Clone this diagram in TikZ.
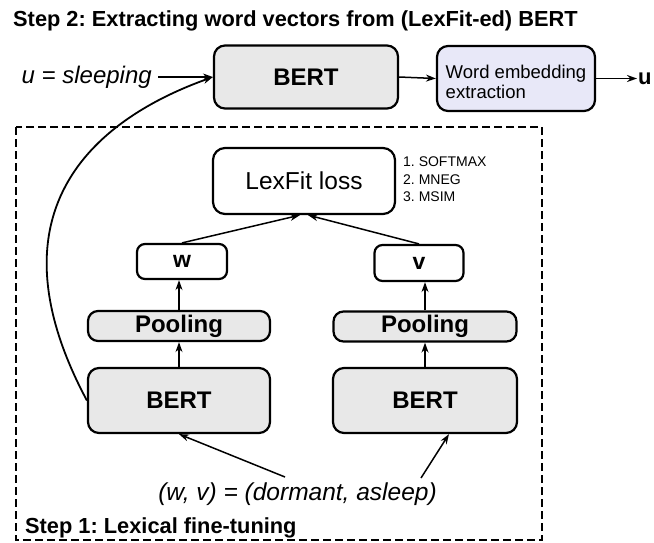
\documentclass[tikz,border=0pt]{standalone}
\usepackage{fontspec}
\setmainfont{Liberation Sans}
\usetikzlibrary{arrows.meta,calc}
\definecolor{bertgray}{RGB}{232,232,232}
\definecolor{lavbox}{RGB}{232,232,248}
\newcommand{\myfs}[2]{\fontsize{#1}{#2}\selectfont}
\frenchspacing
\begin{document}
\begin{tikzpicture}[x=1pt,y=-1pt,
  box/.style={draw, line width=2.2pt, rounded corners=11pt, fill=bertgray, inner sep=0pt},
  smallbox/.style={draw, line width=2.2pt, rounded corners=8pt, fill=white, inner sep=0pt},
  arr/.style={line width=1.5pt, -{Stealth[open, length=10pt, width=7pt]}},
  curvearr/.style={line width=1.8pt, -{Stealth[open, length=10pt, width=7pt]}},
  dashedbox/.style={draw, line width=2.6pt, dash pattern=on 8pt off 4pt},
  lbl/.style={inner sep=0pt}]
\useasboundingbox (0,0) rectangle (654,542);

% title
\node[lbl, anchor=base west, font=\myfs{21.8}{24}\bfseries] (title) at (13,26) {Step 2: Extracting word vectors from (LexFit-ed) BERT};

% step 2 row
\node[box, minimum width=184pt, minimum height=63pt, font=\myfs{24}{28}\bfseries] (topbert) at (306,77) {BERT};
\node[box, fill=lavbox, minimum width=158pt, minimum height=65pt] (wee) at (516,78.5) {};
\node[lbl, align=left, font=\myfs{18.5}{20}] (weetext) at ([yshift=-3pt]wee.center) {Word embedding\\extraction};
\node[lbl, anchor=east, font=\myfs{24}{28}\itshape] (usleep) at (152,77) {u = sleeping};
\node[lbl, anchor=west, inner sep=1pt, font=\myfs{22}{26}\bfseries] (uout) at (637,78.5) {u};

\draw[arr] ([xshift=6pt]usleep.east) -- (topbert.west);
\draw[arr] (topbert.east) -- (wee.west);
\draw[arr] (wee.east) -- (uout.west);

% step 1 frame
\draw[dashedbox] (16,127) rectangle (542,540);
\node[lbl, anchor=base west, font=\myfs{21.8}{24}\bfseries] (step1) at (25,533) {Step 1: Lexical fine-tuning};

% loss
\node[smallbox, rounded corners=12pt, minimum width=182pt, minimum height=66pt, font=\myfs{24.5}{28}] (loss) at (304,181) {LexFit loss};
\node[lbl, anchor=north west, align=left, font=\myfs{14}{17.5}] (losslist) at (403,157) {1. SOFTMAX\\2. MNEG\\3. MSIM};

% w, v
\node[smallbox, minimum width=90pt, minimum height=35pt, font=\myfs{23}{26}\bfseries] (w) at (182,261.5) {w};
\node[smallbox, minimum width=89pt, minimum height=36pt, font=\myfs{23}{26}\bfseries] (v) at (419,263) {v};

% pooling
\node[box, rounded corners=10pt, minimum width=182pt, minimum height=30pt, font=\myfs{24}{28}\bfseries] (poolL) at (179,326) {Pooling};
\node[box, rounded corners=10pt, minimum width=183pt, minimum height=30pt, font=\myfs{24}{28}\bfseries] (poolR) at (425,326.5) {Pooling};

% bert bottom
\node[box, minimum width=182pt, minimum height=65pt, font=\myfs{24}{28}\bfseries] (bertL) at (179,400.5) {BERT};
\node[box, minimum width=184pt, minimum height=65pt, font=\myfs{24}{28}\bfseries] (bertR) at (425,400.5) {BERT};

% pair text
\node[lbl, anchor=base, font=\myfs{24.5}{28}\itshape] (pair) at (297.5,500) {(w, v) = (dormant, asleep)};
\coordinate (pl) at (285,477);
\coordinate (pr) at (421,478);

% arrows
\draw[arr] (w.north) -- ([xshift=-4pt]loss.south);
\draw[arr] (v.north) -- ([xshift=4pt]loss.south);
\draw[arr] (poolL.north) -- (poolL.north |- w.south);
\draw[arr] (poolR.north) -- (poolR.north |- v.south);
\draw[arr] (bertL.north) -- (poolL.south);
\draw[arr] (bertR.north) -- (poolR.south);
\draw[arr] (pl) -- (bertL.south);
\draw[arr] (pr) -- ([xshift=24pt]bertR.south);
\draw[curvearr] (bertL.west) .. controls (-17,206) and (101,117) .. (topbert.west);
\end{tikzpicture}
\end{document}
